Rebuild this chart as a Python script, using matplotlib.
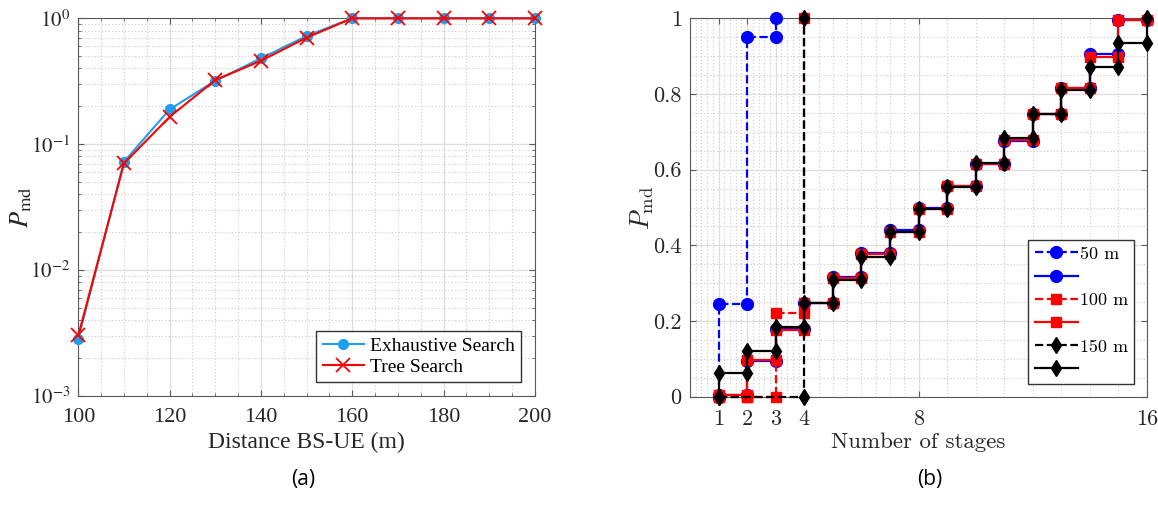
import matplotlib
matplotlib.use("Agg")
import matplotlib.pyplot as plt
import matplotlib.ticker as mticker
import numpy as np

plt.rcParams['mathtext.fontset'] = 'stix'

# (a) distance sweep
distance = [100, 110, 120, 130, 140, 150, 160, 170, 180, 190, 200]
pmd_exhaustive = [0.00286, 0.0725, 0.189, 0.319, 0.481, 0.724, 1.0, 1.0, 1.0, 1.0, 1.0]
pmd_tree = [0.00303, 0.0703, 0.165, 0.323, 0.46, 0.702, 1.0, 1.0, 1.0, 1.0, 1.0]

# (b) levels between stage k and k+1 (k = 1..15), solid curves
levels_50 = [0.004, 0.095, 0.178, 0.247, 0.317, 0.381, 0.440, 0.498, 0.558,
             0.616, 0.677, 0.746, 0.817, 0.905, 0.996]
levels_100 = [0.004, 0.097, 0.176, 0.247, 0.314, 0.377, 0.434, 0.496, 0.556,
              0.616, 0.678, 0.746, 0.815, 0.899, 0.996]
levels_150 = [0.062, 0.121, 0.185, 0.247, 0.308, 0.370, 0.434, 0.495, 0.555,
              0.617, 0.683, 0.746, 0.810, 0.872, 0.936]
end_150 = 1.0

# dashed curves
dash_50_x = [1, 1, 2, 2, 3, 3]
dash_50_y = [0, 0.245, 0.245, 0.95, 0.95, 1.0]
dash_100_x = [1, 2, 2, 3, 3, 4, 4]
dash_100_y = [0, 0, 0, 0, 0.222, 0.222, 1.0]
dash_150_x = [1, 4, 4]
dash_150_y = [0, 0, 1.0]

stage_ticks = [1, 2, 3, 4, 8, 16]


def staircase(levels, end=None):
    xs = [1]
    ys = [0]
    for k, L in enumerate(levels, start=1):
        xs += [k, k + 1]
        ys += [L, L]
    if end is not None:
        xs.append(len(levels) + 1)
        ys.append(end)
    return xs, ys


W, H = 1158, 508
fig = plt.figure(figsize=(W / 100, H / 100), dpi=100)

spine_c = '#5a5a5a'
txt_c = '#262626'
major_grid = dict(color='#dedede', linewidth=0.9, linestyle='-')
minor_grid = dict(color='#cacaca', linewidth=0.8, linestyle=(0, (1, 2)))

# ---------------- (a) ----------------
ax1 = fig.add_axes([78.3 / W, 1 - 396 / H, 456.6 / W, 377.7 / H])
serif = 'Liberation Serif'

ax1.plot(distance, pmd_exhaustive, color='#1d9ff0', lw=1.5, marker='o', ms=7,
         label='Exhaustive Search', clip_on=False, zorder=3)
ax1.plot(distance, pmd_tree, color='#ff0000', lw=1.5, marker='x', ms=10, mew=1.3,
         label='Tree Search', clip_on=False, zorder=4)
ax1.set_yscale('log')
ax1.set_xlim(100, 200)
ax1.set_ylim(1e-3, 1)
ax1.set_xticks(range(100, 201, 20))
ax1.xaxis.set_minor_locator(mticker.MultipleLocator(5))
ax1.set_yticks([1e-3, 1e-2, 1e-1, 1])
ax1.set_yticklabels([r'$10^{-3}$', r'$10^{-2}$', r'$10^{-1}$', r'$10^{0}$'])
ax1.yaxis.set_minor_locator(mticker.LogLocator(base=10, subs=np.arange(2, 10)))
ax1.yaxis.set_minor_formatter(mticker.NullFormatter())
ax1.grid(True, which='major', **major_grid)
ax1.grid(True, which='minor', **minor_grid)
ax1.set_axisbelow(True)
ax1.tick_params(which='both', direction='in', top=True, right=True, colors=spine_c,
                labelcolor=txt_c, labelsize=16)
ax1.tick_params(which='major', length=4)
ax1.tick_params(which='minor', length=2)
ax1.tick_params(axis='x', which='major', pad=9)
ax1.tick_params(axis='y', which='major', pad=6, labelsize=15)
for lab in ax1.get_xticklabels() + ax1.get_yticklabels():
    lab.set_fontfamily(serif)
for s in ax1.spines.values():
    s.set_color(spine_c)
ax1.set_xlabel('Distance BS-UE (m)', fontfamily=serif, fontsize=17, color=txt_c,
               labelpad=3)
ax1.set_ylabel(r'$P_{\mathrm{md}}$', fontsize=19, color=txt_c, labelpad=-3)
leg1 = ax1.legend(loc='lower right', prop={'family': serif, 'size': 14},
                  fancybox=False, framealpha=1, edgecolor='#333333',
                  handlelength=2.1, handletextpad=0.3, borderpad=0.35,
                  labelspacing=0.15, borderaxespad=0.7)
leg1.get_frame().set_linewidth(1.0)

# ---------------- (b) ----------------
ax2 = fig.add_axes([690 / W, 1 - 396.7 / H, 457 / W, 378.4 / H])
cm = 'cmr10'

x50, y50 = staircase(levels_50)
x100, y100 = staircase(levels_100)
x150, y150 = staircase(levels_150, end_150)

lw = 1.6
ax2.plot(dash_50_x, dash_50_y, color='#0000ff', ls='--', lw=lw, marker='o', ms=8.5,
         label='50 m', clip_on=False, zorder=3)
ax2.plot(x50, y50, color='#0000ff', ls='-', lw=lw, marker='o', ms=8.5,
         label=' ', clip_on=False, zorder=3)
ax2.plot(dash_100_x, dash_100_y, color='#ff0000', ls='--', lw=lw, marker='s', ms=6.5,
         label='100 m', clip_on=False, zorder=3)
ax2.plot(x100, y100, color='#ff0000', ls='-', lw=lw, marker='s', ms=6.5,
         label=' ', clip_on=False, zorder=3)
ax2.plot(dash_150_x, dash_150_y, color='#000000', ls='--', lw=lw, marker='d', ms=8.5,
         label='150 m', clip_on=False, zorder=3)
ax2.plot(x150, y150, color='#000000', ls='-', lw=lw, marker='d', ms=8.5,
         label=' ', clip_on=False, zorder=3)

ax2.set_xlim(0, 16)
ax2.set_ylim(0, 1)
ax2.set_xticks(stage_ticks)
ax2.set_xticklabels([str(t) for t in stage_ticks])
minor_x = ([m for m in np.arange(0.2, 4.0, 0.2) if abs(m - round(m)) > 1e-6]
           + [4.5, 5, 5.5, 6, 6.5, 7, 7.5] + list(range(9, 16)))
ax2.set_xticks(minor_x, minor=True)
ax2.set_yticks(np.arange(0, 1.01, 0.2))
ax2.yaxis.set_major_formatter(mticker.FormatStrFormatter('%g'))
ax2.yaxis.set_minor_locator(mticker.MultipleLocator(0.05))
ax2.grid(True, which='major', **major_grid)
ax2.grid(True, which='minor', **minor_grid)
ax2.set_axisbelow(True)
ax2.tick_params(which='both', direction='in', top=True, right=True, colors=spine_c,
                labelcolor=txt_c, labelsize=16)
ax2.tick_params(which='major', length=4)
ax2.tick_params(which='minor', length=0)
ax2.tick_params(axis='x', which='major', pad=9)
ax2.tick_params(axis='y', which='major', pad=6)
for lab in ax2.get_xticklabels() + ax2.get_yticklabels():
    lab.set_fontfamily(cm)
for s in ax2.spines.values():
    s.set_color(spine_c)
ax2.set_xlabel('Number of stages', fontfamily=cm, fontsize=16.5, color=txt_c,
               labelpad=3)
ax2.set_ylabel(r'$P_{\mathrm{md}}$', fontsize=19, color=txt_c, labelpad=-2,
               math_fontfamily='cm')
leg2 = ax2.legend(loc='lower right', prop={'family': cm, 'size': 13},
                  fancybox=False, framealpha=1, edgecolor='#333333',
                  handlelength=2.4, handletextpad=0.1, borderpad=0.35,
                  labelspacing=0.42, borderaxespad=0.7)
leg2.get_frame().set_linewidth(1.0)

# panel captions
fig.text(303 / W, 1 - 479 / H, '(a)', ha='center', va='center', fontsize=15,
         family='Open Sans')
fig.text(930 / W, 1 - 479 / H, '(b)', ha='center', va='center', fontsize=15,
         family='Open Sans')

fig.savefig('out.png', dpi=100)
